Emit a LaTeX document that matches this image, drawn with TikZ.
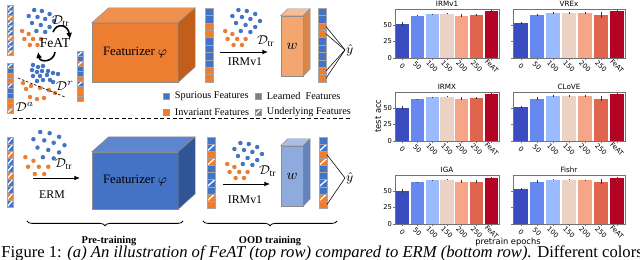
\documentclass[tikz,border=0pt]{standalone}
\usepackage{amsmath}
\usepackage{fontspec}
\setmainfont{Liberation Serif}
\newfontfamily\plotfont{DejaVu Sans}
\usetikzlibrary{
  arrows.meta,
  calc,
  decorations.pathreplacing,
  positioning
}
\definecolor{spur}{HTML}{4472C4}
\definecolor{inv}{HTML}{ED7D31}
\definecolor{learned}{HTML}{7F7F7F}
\definecolor{featfront}{HTML}{ED7D31}
\definecolor{feattop}{HTML}{F0904F}
\definecolor{featside}{HTML}{C25E1C}
\definecolor{headfront}{HTML}{F4A670}
\definecolor{headtop}{HTML}{F7BE96}
\definecolor{headside}{HTML}{D8864C}
\definecolor{ermfront}{HTML}{4472C4}
\definecolor{ermtop}{HTML}{5E86CF}
\definecolor{ermside}{HTML}{2F5597}
\definecolor{ermhfront}{HTML}{8FAADC}
\definecolor{ermhtop}{HTML}{AABFE7}
\definecolor{ermhside}{HTML}{6383BE}
\definecolor{bar1}{HTML}{3B4CC0}
\definecolor{bar2}{HTML}{6788EE}
\definecolor{bar3}{HTML}{9ABBFF}
\definecolor{bar4}{HTML}{EBD2C5}
\definecolor{bar5}{HTML}{F5A688}
\definecolor{bar6}{HTML}{E0654F}
\definecolor{bar7}{HTML}{B40426}
\newcommand{\cloudblue}{12/0,19/1,26/4,7/6,15/7,22/9,30/11,10/13,18/15,26/17,14/21,22/22}
\newcommand{\cloudorange}{1/21,7/24,3/29,11/29,18/29,8/35,15/35}
\tikzset{
  vcell/.style={
    draw=black!35,
    line width=0.2pt,
    minimum width=5pt,
    inner sep=0pt,
    outer sep=0pt
  },
  scell/.style={
    vcell,
    minimum width=3.75pt,
    minimum height=3.125pt
  },
  hatch/.style={
    path picture={
      \draw[white, line width=0.8pt]
        (path picture bounding box.south west) --
        (path picture bounding box.north east);
    }
  },
  cellB/.style={fill=spur},
  cellO/.style={fill=inv},
  cellb/.style={fill=spur, hatch},
  cello/.style={fill=inv, hatch},
  cubeface/.style={
    draw=black!45,
    line width=0.3pt
  },
  netbox/.style={
    cubeface,
    inner sep=0pt,
    align=center
  },
  flow/.style={
    -{Latex[length=3.5pt, width=3pt]},
    line width=0.6pt
  },
  featarrow/.style={
    -{Latex[length=3.8pt, width=3.8pt]},
    line width=1pt
  },
  readout/.style={line width=0.35pt},
  legsq/.style={
    draw=black!40,
    line width=0.2pt,
    minimum size=3.6pt,
    inner sep=0pt
  },
  legtext/.style={
    font=\fontsize{6.4}{7.5}\selectfont,
    inner sep=0.5pt
  },
  setlabel/.style={
    inner sep=0.5pt,
    font=\fontsize{8.5}{9}\selectfont
  },
  steplabel/.style={font=\fontsize{7.4}{8.5}\selectfont},
  phase/.style={font=\fontsize{6.5}{8}\selectfont\bfseries},
  phasebrace/.style={
    decorate,
    decoration={brace, mirror, amplitude=3pt},
    line width=0.5pt
  },
  sepline/.style={
    line width=0.5pt,
    dash pattern=on 2.4pt off 1.6pt
  },
  axbox/.style={
    draw=black!55,
    line width=0.45pt
  },
  errbar/.style={
    line width=0.45pt,
    draw=black!80
  },
  ticklab/.style={
    font=\plotfont\fontsize{4.2}{4.5}\selectfont,
    inner sep=0.5pt
  },
  paneltitle/.style={
    font=\plotfont\fontsize{4.5}{5}\selectfont,
    inner sep=0pt
  },
  axlab/.style={
    font=\plotfont\fontsize{5.2}{6}\selectfont,
    inner sep=0pt
  }
}

\begin{document}
\begin{tikzpicture}[x=0.625pt, y=-0.625pt, font=\fontsize{7}{8.5}\selectfont]
  \useasboundingbox (0,0) rectangle (640,260);
  \clip (0,0) rectangle (640,260);

  % Small feature strips next to the data sets.
  \foreach \vx/\vy/\name/\pat in {
    7/5/stripA/{b,b,o,b,b,b,o,b,b,o},
    7/63/stripR/{b,B,O,O,b,B,B,O,O,o},
    77/51/stripS/{b,B,o,B,B,O,b,O,O,O}}{
    \foreach \c [count=\i] in \pat
      \node[scell, cell\c, anchor=north west]
        (\name-\i) at (\vx,{\vy+(\i-1)*5}) {};
  }
  \foreach \c [count=\i] in {b,b,o,b,b,o,b,b,o,b}
    \node[scell, cell\c, minimum height=4.375pt, anchor=north west]
      (stripE-\i) at (7,{137+(\i-1)*7}) {};

  % Data clouds.
  \foreach \ox/\oy/\sx/\sy in {21/10/1.1/1, 224/10/1.2/1, 24/132/1.35/1.2, 226/143/1.2/1}{
    \foreach \dx/\dy in \cloudblue
      \fill[spur] ({\ox+\sx*\dx},{\oy+\sy*\dy}) circle (1.4pt);
    \foreach \dx/\dy in \cloudorange
      \fill[inv] ({\ox+\sx*\dx},{\oy+\sy*\dy}) circle (1.4pt);
  }
  \foreach \dx/\dy in {33/65,38/67,43/66,32/70,37/72,42/71,48/71,53/73,58/74,
      33/76,40/76,47/75,50/80,37/81,43/80,53/82}
    \fill[spur] (\dx,\dy) circle (1.4pt);
  \foreach \dx/\dy in {23/83,31/86,26/89,40/88,49/90,55/93,30/97,37/99,44/98}
    \fill[inv] (\dx,\dy) circle (1.4pt);
  \coordinate (cutL) at (18,78);
  \coordinate (cutR) at (65,97);
  \draw[line width=0.4pt, dash pattern=on 1.6pt off 1.1pt] (cutL) -- (cutR);

  % Set labels.
  \node[setlabel, anchor=west] (dtrA) at (51,21) {$\mathcal{D}_{\mathrm{tr}}$};
  \node[setlabel] (featlab) at (55,43) {FeAT};
  \node[setlabel] (dret) at (65,86) {$\mathcal{D}^{r}$};
  \node[setlabel] (daug) at (25,107) {$\mathcal{D}^{a}$};
  \node[setlabel, anchor=west] (dtrC) at (256,41) {$\mathcal{D}_{\mathrm{tr}}$};
  \node[setlabel, anchor=west] (dtrB) at (54,164) {$\mathcal{D}_{\mathrm{tr}}$};
  \node[setlabel, anchor=west] (dtrD) at (258,171) {$\mathcal{D}_{\mathrm{tr}}$};

  % FeAT exchange arrows.
  \coordinate (swapA) at (53,32);
  \coordinate (swapB) at (70,39);
  \coordinate (swapC) at (55,52);
  \coordinate (swapD) at (38,52);
  \draw[featarrow] (swapA) .. controls (57,22) and (68,25) .. (swapB);
  \draw[featarrow] (swapC) .. controls (54,62) and (40,63) .. (swapD);

  % Featurizers.
  \node[netbox, fill=featfront, minimum width=53.75pt, minimum height=36.875pt,
    font=\fontsize{8}{9}\selectfont] (featA) at (135,52.5) {Featurizer $\varphi$};
  \filldraw[cubeface, fill=feattop]
    (featA.north west) -- ++(17,-15) -- ++(86,0) -- (featA.north east) -- cycle;
  \filldraw[cubeface, fill=featside]
    (featA.north east) -- ++(17,-15) -- ++(0,59) -- (featA.south east) -- cycle;
  \node[netbox, fill=ermfront, minimum width=53.75pt, minimum height=35.625pt,
    font=\fontsize{8}{9}\selectfont] (featB) at (135,180.5) {Featurizer $\varphi$};
  \filldraw[cubeface, fill=ermtop]
    (featB.north west) -- ++(17,-15) -- ++(86,0) -- (featB.north east) -- cycle;
  \filldraw[cubeface, fill=ermside]
    (featB.north east) -- ++(17,-15) -- ++(0,57) -- (featB.south east) -- cycle;

  % Classifier heads.
  \node[netbox, fill=headfront, minimum width=13.75pt, minimum height=37.5pt,
    font=\fontsize{9.5}{10}\selectfont] (headA) at (292,46) {$w$};
  \filldraw[cubeface, fill=headtop]
    (headA.north west) -- ++(7,-7) -- ++(22,0) -- (headA.north east) -- cycle;
  \filldraw[cubeface, fill=headside]
    (headA.north east) -- ++(7,-7) -- ++(0,60) -- (headA.south east) -- cycle;
  \node[netbox, fill=ermhfront, minimum width=13.75pt, minimum height=37.5pt,
    font=\fontsize{9.5}{10}\selectfont] (headB) at (292,176) {$w$};
  \filldraw[cubeface, fill=ermhtop]
    (headB.north west) -- ++(7,-7) -- ++(22,0) -- (headB.north east) -- cycle;
  \filldraw[cubeface, fill=ermhside]
    (headB.north east) -- ++(7,-7) -- ++(0,60) -- (headB.south east) -- cycle;

  % Feature vectors.
  \foreach \vx/\vy/\ch/\name/\pat in {
    205/8/7.4/vecA/{B,B,O,O,B,B,B,B,O,O},
    318/8/7.4/outA/{B,B,O,O,B,B,B,B,O,O},
    207/137/7.1/vecB/{B,b,O,o,B,B,b,B,o,O},
    319/137/7.1/outB/{B,b,O,o,B,B,b,B,o,O}}{
    \pgfmathsetmacro\hh{\ch*0.625}
    \foreach \c [count=\i] in \pat
      \node[vcell, cell\c, minimum height=\hh pt, anchor=north west]
        (\name-\i) at (\vx,{\vy+(\i-1)*\ch}) {};
  }

  % Training arrows.
  \coordinate (ermS) at (33,178);
  \coordinate (ermE) at (80,178);
  \coordinate (irmAS) at (220,52);
  \coordinate (irmAE) at (268,52);
  \coordinate (irmBS) at (223,184);
  \coordinate (irmBE) at (270,184);
  \draw[flow] (ermS) -- (ermE);
  \draw[flow] (irmAS) -- (irmAE);
  \draw[flow] (irmBS) -- (irmBE);
  \node[steplabel] (ermlab) at (52,195) {ERM};
  \node[steplabel] (irmAlab) at (245,62) {IRMv1};
  \node[steplabel] (irmBlab) at (245,200) {IRMv1};

  % Predictions.
  \node[inner sep=0.5pt, anchor=west, font=\fontsize{8.5}{9}\selectfont]
    (yhatA) at (345,50) {$\hat{y}$};
  \node[inner sep=0.5pt, anchor=west, font=\fontsize{8.5}{9}\selectfont]
    (yhatB) at (345,178) {$\hat{y}$};
  \foreach \i in {3,4,9,10}
    \draw[readout] (outA-\i.east) -- (yhatA.west);
  \foreach \i in {3,10}
    \draw[readout] (outB-\i.east) -- (yhatB.west);

  % Legend.
  \node[legsq, fill=spur] (lgS) at (166,96) {};
  \node[legtext, right=3pt of lgS] (lgStext) {Spurious Features};
  \node[legsq, fill=inv] (lgI) at (166,112) {};
  \node[legtext, right=3pt of lgI] (lgItext) {Invariant Features};
  \node[legsq, fill=learned] (lgL) at (258,96) {};
  \node[legtext, right=3pt of lgL] (lgLtext) {Learned~ Features};
  \node[legsq, fill=learned, hatch] (lgU) at (258,112) {};
  \node[legtext, right=3pt of lgU] (lgUtext) {Underlying Features};

  % Separator and stage braces.
  \draw[sepline] (13,118) -- (350,118);
  \coordinate (preL) at (27,221);
  \coordinate (preR) at (183,221);
  \coordinate (oodL) at (203,221);
  \coordinate (oodR) at (337,221);
  \draw[phasebrace] (preL) -- (preR);
  \draw[phasebrace] (oodL) -- (oodR);
  \node[phase] (prelab) at (109,241) {Pre-training};
  \node[phase] (oodlab) at (270,241) {OOD training};

  % Accuracy panels.
  \foreach \lx/\pw/\by/\lab/\ttl/\vals in {
    395/104/58/1/IRMv1/{51/3,64/1,66/1,67/1,64/2,65/2,71/1},
    513/112/58/0/VREx/{53/1.5,65/2,68/1,68/1,68/1,65/4,71/1},
    395/104/141/1/IRMX/{50/3,63/1,66/1,67/1,64/2,65/2,71/1},
    513/112/141/0/CLoVE/{52/1.5,64/2,68/1,68/1,68/1,64/4,71/1},
    395/104/224/1/IGA/{50/3,63/1,66/1,67/1,64/2,64/2,70/1},
    513/112/224/0/Fishr/{53/1.5,64/2,67/1,67/1,66/1,64/4,70/1}}{
    \pgfmathsetmacro\slot{\pw/7}
    \foreach \val/\err [count=\k] in \vals {
      \pgfmathsetmacro\cx{\lx+(\k-0.5)*\slot}
      \fill[bar\k] ({\cx-0.44*\slot},\by) rectangle ({\cx+0.44*\slot},{\by-0.66*\val});
      \draw[errbar] (\cx,{\by-0.66*(\val-\err)}) -- (\cx,{\by-0.66*(\val+\err)});
    }
    \draw[axbox] (\lx,\by) rectangle ({\lx+\pw},{\by-49});
    \node[paneltitle, anchor=base] (title-\ttl) at ({\lx+\pw/2},{\by-51}) {\ttl};
    \foreach \tk [count=\k] in {0,50,100,150,200,250,FeAT} {
      \pgfmathsetmacro\cx{\lx+(\k-0.5)*\slot}
      \draw[axbox] (\cx,\by) -- (\cx,{\by+2});
      \node[ticklab, rotate=-45] (xt-\ttl-\k) at (\cx,{\by+8}) {\tk};
    }
    \foreach \g in {0,25,50} {
      \draw[axbox] (\lx,{\by-0.66*\g}) -- ({\lx-2},{\by-0.66*\g});
      \ifnum\lab=1
        \node[ticklab, anchor=east] (yt-\ttl-\g) at ({\lx-2},{\by-0.66*\g}) {\g};
      \fi
    }
  }
  \node[axlab, rotate=90] (ylab) at (378,116) {test acc};
  \node[axlab] (xlab) at (508,242) {pretrain epochs};

  % Caption line, cut by the lower edge.
  \node[anchor=base west, inner sep=0pt, font=\fontsize{10.4}{12}\selectfont]
    (cap) at (1,258) {Figure 1: \textit{(a) An illustration of FeAT (top row)
    compared to ERM (bottom row).} Different colors};
\end{tikzpicture}
\end{document}
